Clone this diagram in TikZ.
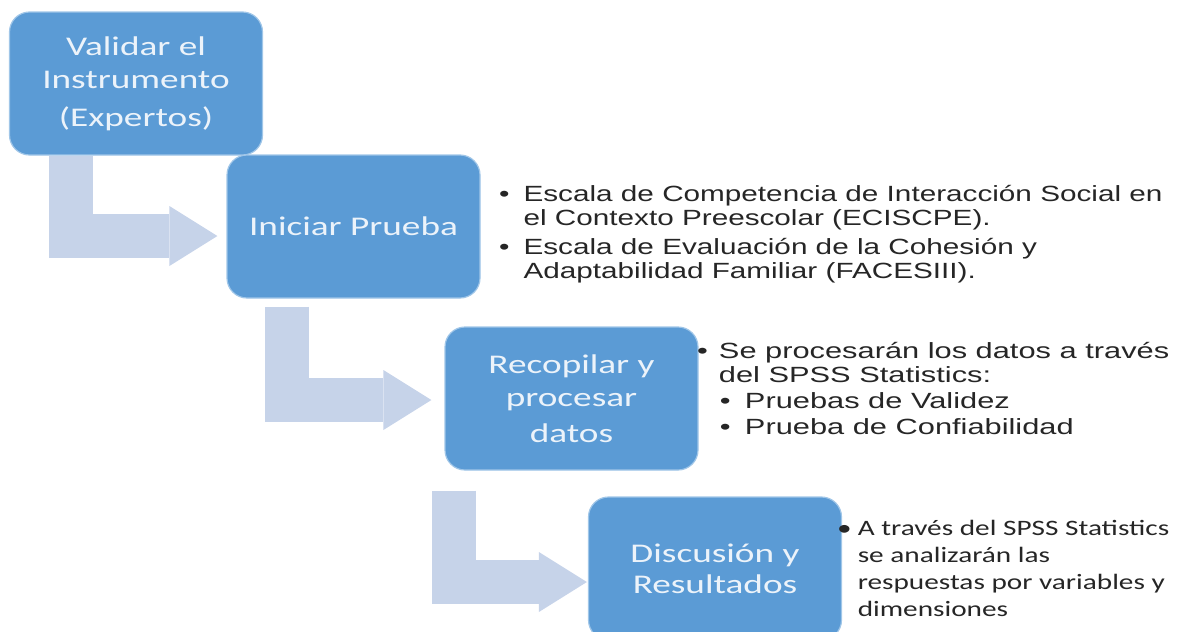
\documentclass[tikz,border=0pt]{standalone}
\usepackage{fontspec}
\usepackage{tikz}
\usetikzlibrary{arrows.meta,calc}

\newfontfamily\boxfont[FakeStretch=1.38]{Carlito}
\newfontfamily\notefont[FakeStretch=1.35]{Liberation Sans}
\newfontfamily\notefontb[FakeStretch=1.4]{Liberation Sans}
\newfontfamily\notefontc[FakeStretch=1.33]{Carlito}

\definecolor{boxblue}{RGB}{91,155,213}
\definecolor{boxedge}{RGB}{160,198,232}
\definecolor{bendgray}{RGB}{198,211,233}
\definecolor{boxtext}{RGB}{236,243,250}
\definecolor{notetext}{RGB}{38,38,38}

\tikzset{
  stepbox/.style={draw=boxedge, line width=1.2pt, fill=boxblue, rounded corners=20pt,
    minimum width=253pt, minimum height=143pt, inner sep=0pt, align=center,
    text=boxtext, font=\boxfont\fontsize{27}{33}\selectfont},
  bendarrow/.style={draw=bendgray, line width=44pt,
    -{Triangle[length=48pt,width=60pt,line width=0pt]}},
  notes/.style={anchor=base west, inner sep=0pt, text=notetext},
}

\begin{document}
\begin{tikzpicture}[x=1pt,y=1pt,yscale=-1,xscale=1]
\useasboundingbox (0,0) rectangle (1181,632);
\clip (0,0) rectangle (1181,632);

% Steps
\node[stepbox] (valida) at (136,83.5) {Validar el\\Instrumento\\[5pt](Expertos)};
\node[stepbox] (iniciar) at (353.5,226.5) {Iniciar Prueba};
\node[stepbox] (recopila) at (571.5,398.5) {Recopilar y\\procesar\\[3pt]datos};
\node[stepbox] (discusion) at (715,568.5) {Discusión y\\[-2pt]Resultados};

% Bent arrows
\draw[bendarrow] ($(valida.south)+(-65.5,0)$) |- ($(iniciar.west)+(-9,9.5)$);
\draw[bendarrow] ($(iniciar.south)+(-67,8)$) |- ($(recopila.west)+(-13,1.5)$);
\draw[bendarrow] ($(recopila.south)+(-118,20)$) |- ($(discusion.west)+(-1,13.5)$);

% Text Node
\node[notes] (escalas) at (499,201) {\notefont\fontsize{22}{24}\selectfont
  \begin{tabular}[t]{@{}l@{\hspace{14pt}}l@{}}
  • & Escala de Competencia de Interacción Social en\\
    & el Contexto Preescolar (ECISCPE).\\[5pt]
  • & Escala de Evaluación de la Cohesión y\\
    & Adaptabilidad Familiar (FACESIII).
  \end{tabular}};
% Text Node
\node[notes] (proceso) at (697,358) {\notefontb\fontsize{22}{24}\selectfont
  \begin{tabular}[t]{@{}l@{\hspace{11pt}}l@{}}
  • & Se procesarán los datos a través\\
    & del SPSS Statistics:\\[2pt]
    & \makebox[26pt][l]{\hspace{1pt}•}Pruebas de Validez\\[2pt]
    & \makebox[26pt][l]{\hspace{1pt}•}Prueba de Confiabilidad
  \end{tabular}};
% Text Node
\node[notes] (analisis) at (837,535) {\notefontc\fontsize{22}{27}\selectfont
  \begin{tabular}[t]{@{}l@{\hspace{6pt}}l@{}}
  • & A través del SPSS Statistics\\
    & se analizarán las\\
    & respuestas por variables y\\
    & dimensiones
  \end{tabular}};

\end{tikzpicture}
\end{document}
